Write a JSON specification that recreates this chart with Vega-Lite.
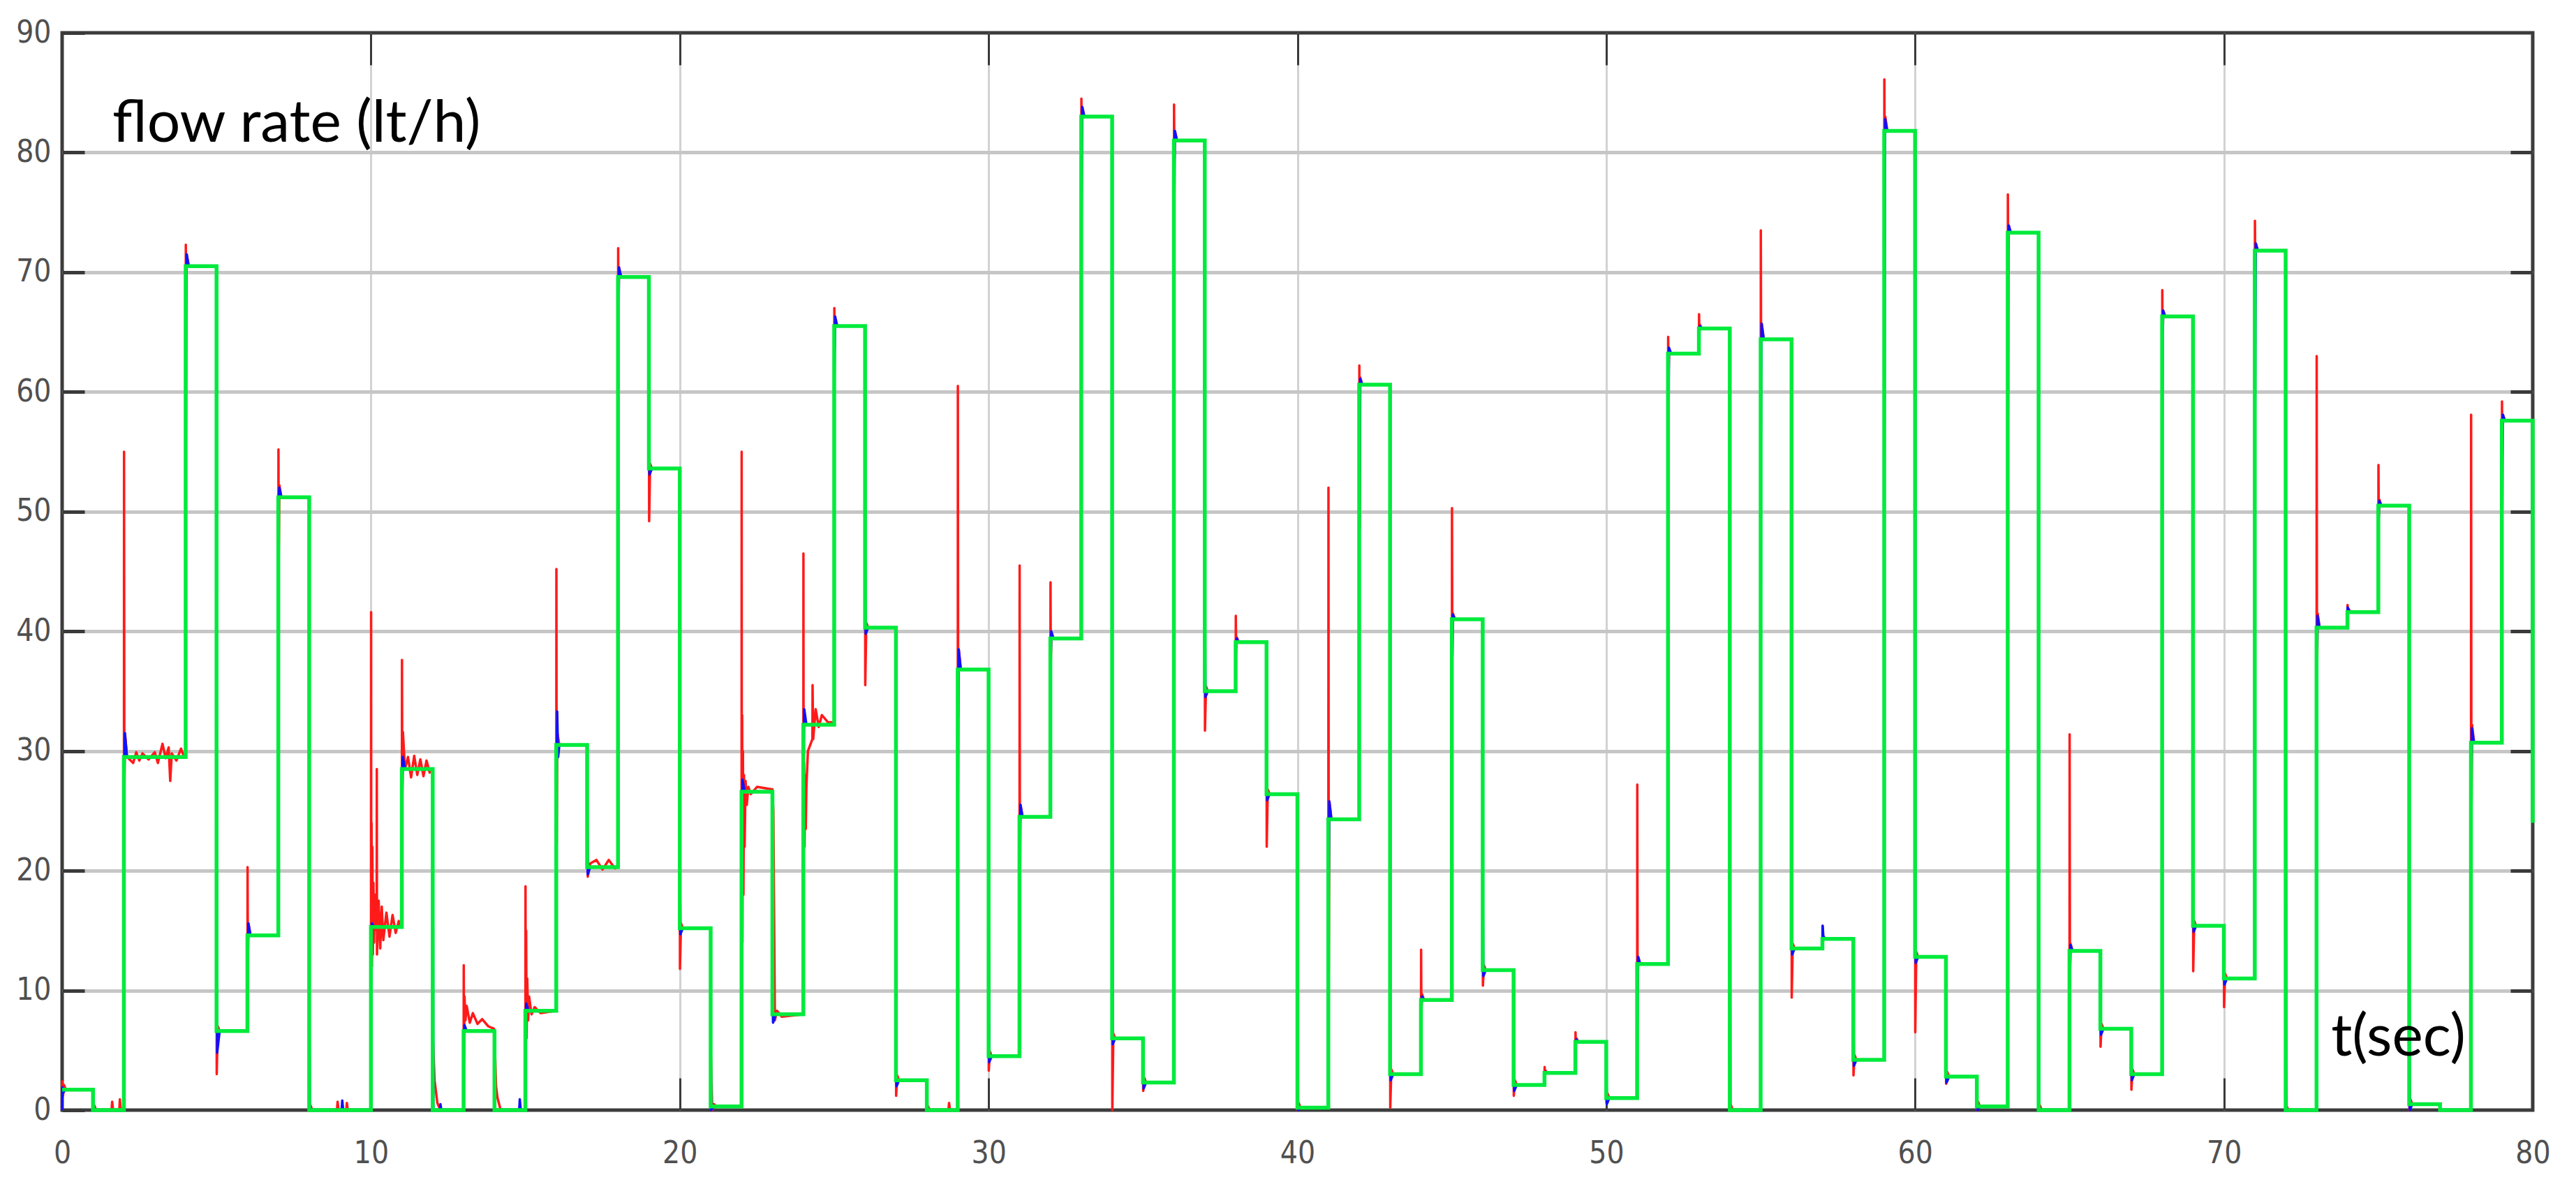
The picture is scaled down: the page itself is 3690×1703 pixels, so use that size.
{
  "$schema": "https://vega.github.io/schema/vega-lite/v6.json",
  "width": 3539,
  "height": 1543,
  "autosize": {"type": "none"},
  "padding": {"left": 89, "top": 47, "right": 62, "bottom": 113},
  "background": "#ffffff",
  "config": {"view": {"stroke": "#3c3c3c", "strokeWidth": 5}},
  "datasets": {
    "red": [
      {"t":0,"v":0},{"t":0.005,"v":2.4},{"t":0.03,"v":1.2},{"t":0.06,"v":2.1},{"t":0.12,"v":1.7},
      {"t":1,"v":1.7},{"t":1.006,"v":0},{"t":1.04,"v":0.4},{"t":1.1,"v":0},{"t":1.6,"v":0},{"t":1.62,"v":0.7},{"t":1.65,"v":0},{"t":1.85,"v":0},{"t":1.87,"v":0.9},{"t":1.9,"v":0},
      {"t":2,"v":0},{"t":2.005,"v":55},{"t":2.015,"v":26.5},{"t":2.035,"v":31.5},{"t":2.1,"v":29.5},{"t":2.3,"v":29},{"t":2.4,"v":29.9},{"t":2.5,"v":29.2},{"t":2.6,"v":29.8},{"t":2.8,"v":29.3},{"t":3,"v":29.9},{"t":3.1,"v":29},{"t":3.25,"v":30.6},{"t":3.35,"v":29.4},{"t":3.45,"v":30.3},{"t":3.5,"v":27.5},{"t":3.55,"v":29.8},{"t":3.7,"v":29.2},{"t":3.85,"v":30.2},{"t":3.95,"v":29.5},
      {"t":4,"v":29.5},{"t":4.005,"v":72.3},{"t":4.015,"v":69},{"t":4.035,"v":71.5},{"t":4.1,"v":70.5},
      {"t":5,"v":70.5},{"t":5.006,"v":3},{"t":5.04,"v":7},{"t":5.1,"v":6.6},
      {"t":6,"v":6.6},{"t":6.005,"v":20.3},{"t":6.015,"v":12.6},{"t":6.035,"v":15.6},{"t":6.1,"v":14.6},
      {"t":7,"v":14.6},{"t":7.005,"v":55.2},{"t":7.015,"v":46.4},{"t":7.035,"v":52.2},{"t":7.1,"v":51.2},
      {"t":8,"v":51.2},{"t":8.006,"v":0},{"t":8.04,"v":0.4},{"t":8.1,"v":0},{"t":8.9,"v":0},{"t":8.92,"v":0.7},{"t":8.95,"v":0},{"t":9.2,"v":0},{"t":9.22,"v":0.6},{"t":9.25,"v":0},
      {"t":10,"v":0},{"t":10.005,"v":41.6},{"t":10.012,"v":3},{"t":10.02,"v":24},{"t":10.03,"v":12},{"t":10.045,"v":22},{"t":10.06,"v":13},{"t":10.08,"v":19},{"t":10.1,"v":14},{"t":10.13,"v":18},{"t":10.185,"v":15},{"t":10.19,"v":28.5},{"t":10.195,"v":13},{"t":10.25,"v":17.5},{"t":10.3,"v":13.5},{"t":10.35,"v":17},{"t":10.4,"v":14.2},{"t":10.5,"v":16.5},{"t":10.6,"v":14.5},{"t":10.7,"v":16.3},{"t":10.8,"v":14.8},{"t":10.9,"v":15.8},{"t":10.98,"v":15.3},
      {"t":11,"v":15.3},{"t":11.005,"v":37.6},{"t":11.015,"v":26.5},{"t":11.035,"v":31.6},{"t":11.1,"v":28.5},{"t":11.2,"v":29.5},{"t":11.3,"v":27.8},{"t":11.4,"v":29.6},{"t":11.5,"v":28},{"t":11.6,"v":29.3},{"t":11.7,"v":27.9},{"t":11.8,"v":29.2},{"t":11.9,"v":28.2},{"t":11.98,"v":28.5},
      {"t":12,"v":28.5},{"t":12.006,"v":6},{"t":12.06,"v":2.5},{"t":12.15,"v":0.6},{"t":12.25,"v":0},
      {"t":13,"v":0},{"t":13.005,"v":12.1},{"t":13.015,"v":4},{"t":13.03,"v":9.5},{"t":13.06,"v":7.5},{"t":13.1,"v":8.7},{"t":13.2,"v":7.3},{"t":13.3,"v":8.1},{"t":13.45,"v":7.2},{"t":13.6,"v":7.6},{"t":13.8,"v":7},{"t":13.98,"v":6.8},
      {"t":14,"v":6.6},{"t":14.01,"v":5.5},{"t":14.05,"v":2},{"t":14.1,"v":1},{"t":14.2,"v":0},
      {"t":15,"v":0},{"t":15.005,"v":18.7},{"t":15.012,"v":4},{"t":15.025,"v":15},{"t":15.04,"v":6},{"t":15.06,"v":11},{"t":15.09,"v":7.5},{"t":15.12,"v":9.5},{"t":15.2,"v":8},{"t":15.3,"v":8.6},{"t":15.5,"v":8.1},{"t":15.98,"v":8.3},
      {"t":16,"v":8.3},{"t":16.005,"v":45.2},{"t":16.015,"v":22.2},{"t":16.035,"v":31.5},{"t":16.1,"v":30.5},
      {"t":17,"v":30.5},{"t":17.004,"v":25},{"t":17.02,"v":19.5},{"t":17.1,"v":20.6},{"t":17.3,"v":20.9},{"t":17.5,"v":20.1},{"t":17.7,"v":20.9},{"t":17.9,"v":20.2},{"t":17.98,"v":20.3},
      {"t":18,"v":20.3},{"t":18.005,"v":72},{"t":18.015,"v":67.6},{"t":18.035,"v":70.4},{"t":18.1,"v":69.6},
      {"t":19,"v":69.6},{"t":19.003,"v":57.7},{"t":19.008,"v":49.2},{"t":19.04,"v":54},{"t":19.1,"v":53.6},
      {"t":20,"v":53.6},{"t":20.006,"v":11.8},{"t":20.04,"v":15.6},{"t":20.1,"v":15.2},
      {"t":21,"v":15.2},{"t":21.004,"v":5.1},{"t":21.05,"v":0},{"t":21.1,"v":0.5},{"t":21.2,"v":0.3},
      {"t":22,"v":0.3},{"t":22.004,"v":55},{"t":22.01,"v":12},{"t":22.02,"v":33},{"t":22.03,"v":14},{"t":22.045,"v":30},{"t":22.06,"v":18},{"t":22.08,"v":28},{"t":22.1,"v":22},{"t":22.13,"v":27.5},{"t":22.17,"v":25.5},{"t":22.22,"v":27},{"t":22.3,"v":26.4},{"t":22.5,"v":27},{"t":22.98,"v":26.8},
      {"t":23,"v":26.8},{"t":23.03,"v":25},{"t":23.08,"v":7.5},{"t":23.15,"v":8.3},{"t":23.3,"v":7.8},
      {"t":24,"v":8},{"t":24.004,"v":46.5},{"t":24.012,"v":21},{"t":24.025,"v":29},{"t":24.04,"v":22},{"t":24.06,"v":28},{"t":24.08,"v":23.5},{"t":24.1,"v":27},{"t":24.15,"v":30},{"t":24.295,"v":31},{"t":24.3,"v":35.5},{"t":24.32,"v":31},{"t":24.4,"v":33.5},{"t":24.5,"v":32},{"t":24.6,"v":33},{"t":24.8,"v":32.4},{"t":24.98,"v":32.4},
      {"t":25,"v":32.4},{"t":25.005,"v":67},{"t":25.015,"v":63.5},{"t":25.035,"v":66},{"t":25.1,"v":65.5},
      {"t":26,"v":65.5},{"t":26.006,"v":35.5},{"t":26.04,"v":40.7},{"t":26.1,"v":40.3},
      {"t":27,"v":40.3},{"t":27.006,"v":1.2},{"t":27.04,"v":2.9},{"t":27.1,"v":2.5},
      {"t":28,"v":2.5},{"t":28.006,"v":0},{"t":28.04,"v":0.3},{"t":28.1,"v":0},{"t":28.7,"v":0},{"t":28.72,"v":0.6},{"t":28.75,"v":0},
      {"t":29,"v":0},{"t":29.005,"v":60.5},{"t":29.015,"v":32.8},{"t":29.035,"v":38.5},{"t":29.1,"v":36.8},
      {"t":30,"v":36.8},{"t":30.006,"v":3.3},{"t":30.04,"v":4.9},{"t":30.1,"v":4.5},
      {"t":31,"v":4.5},{"t":31.005,"v":45.5},{"t":31.015,"v":18.5},{"t":31.035,"v":25.5},{"t":31.1,"v":24.5},
      {"t":32,"v":24.5},{"t":32.005,"v":44.1},{"t":32.015,"v":37.4},{"t":32.035,"v":39.9},{"t":32.1,"v":39.4},
      {"t":33,"v":39.4},{"t":33.005,"v":84.5},{"t":33.015,"v":81},{"t":33.035,"v":83.8},{"t":33.1,"v":83},
      {"t":34,"v":83},{"t":34.006,"v":0},{"t":34.04,"v":6.4},{"t":34.1,"v":6},
      {"t":35,"v":6},{"t":35.006,"v":1.6},{"t":35.04,"v":2.7},{"t":35.1,"v":2.3},
      {"t":36,"v":2.3},{"t":36.005,"v":84},{"t":36.015,"v":79},{"t":36.035,"v":81.8},{"t":36.1,"v":81},
      {"t":37,"v":81},{"t":37.006,"v":31.7},{"t":37.04,"v":35.4},{"t":37.1,"v":35},
      {"t":38,"v":35},{"t":38.005,"v":41.3},{"t":38.015,"v":38.6},{"t":38.035,"v":39.5},{"t":38.1,"v":39.1},
      {"t":39,"v":39.1},{"t":39.006,"v":22},{"t":39.04,"v":26.8},{"t":39.1,"v":26.4},
      {"t":40,"v":26.4},{"t":40.006,"v":0},{"t":40.04,"v":0.6},{"t":40.1,"v":0.2},
      {"t":41,"v":0.2},{"t":41.005,"v":52},{"t":41.015,"v":11.3},{"t":41.035,"v":25.8},{"t":41.1,"v":24.3},
      {"t":42,"v":24.3},{"t":42.005,"v":62.2},{"t":42.015,"v":48.6},{"t":42.035,"v":61.2},{"t":42.1,"v":60.6},
      {"t":43,"v":60.6},{"t":43.006,"v":0.2},{"t":43.04,"v":3.4},{"t":43.1,"v":3},
      {"t":44,"v":3},{"t":44.005,"v":13.4},{"t":44.015,"v":8.2},{"t":44.035,"v":9.7},{"t":44.1,"v":9.2},
      {"t":45,"v":9.2},{"t":45.005,"v":50.3},{"t":45.015,"v":38},{"t":45.035,"v":41.5},{"t":45.1,"v":41},
      {"t":46,"v":41},{"t":46.006,"v":10.4},{"t":46.04,"v":12.1},{"t":46.1,"v":11.7},
      {"t":47,"v":11.7},{"t":47.006,"v":1.2},{"t":47.04,"v":2.5},{"t":47.1,"v":2.1},
      {"t":48,"v":2.1},{"t":48.005,"v":3.6},{"t":48.015,"v":3.1},{"t":48.035,"v":3.3},{"t":48.1,"v":3.1},
      {"t":49,"v":3.1},{"t":49.005,"v":6.5},{"t":49.015,"v":5.4},{"t":49.035,"v":6},{"t":49.1,"v":5.7},
      {"t":50,"v":5.7},{"t":50.006,"v":0.6},{"t":50.04,"v":1.4},{"t":50.1,"v":1},
      {"t":51,"v":1},{"t":51.005,"v":27.2},{"t":51.015,"v":10.2},{"t":51.035,"v":12.8},{"t":51.1,"v":12.2},
      {"t":52,"v":12.2},{"t":52.005,"v":64.6},{"t":52.015,"v":61.2},{"t":52.035,"v":63.6},{"t":52.1,"v":63.2},
      {"t":53,"v":63.2},{"t":53.005,"v":66.5},{"t":53.015,"v":65},{"t":53.035,"v":65.6},{"t":53.1,"v":65.3},
      {"t":54,"v":65.3},{"t":54.006,"v":0},{"t":54.04,"v":0.4},{"t":54.1,"v":0},
      {"t":55,"v":0},{"t":55.005,"v":73.5},{"t":55.015,"v":62.4},{"t":55.035,"v":65.7},{"t":55.1,"v":64.4},
      {"t":56,"v":64.4},{"t":56.006,"v":9.4},{"t":56.04,"v":13.9},{"t":56.1,"v":13.5},
      {"t":57,"v":13.5},{"t":57.005,"v":15.4},{"t":57.015,"v":14.1},{"t":57.035,"v":14.5},{"t":57.1,"v":14.3},
      {"t":58,"v":14.3},{"t":58.006,"v":2.9},{"t":58.04,"v":4.6},{"t":58.1,"v":4.2},
      {"t":59,"v":4.2},{"t":59.005,"v":86.1},{"t":59.015,"v":79.8},{"t":59.035,"v":83},{"t":59.1,"v":81.8},
      {"t":60,"v":81.8},{"t":60.006,"v":6.5},{"t":60.04,"v":13.2},{"t":60.1,"v":12.8},
      {"t":61,"v":12.8},{"t":61.006,"v":2.2},{"t":61.04,"v":3.2},{"t":61.1,"v":2.8},
      {"t":62,"v":2.8},{"t":62.006,"v":0},{"t":62.04,"v":0.7},{"t":62.1,"v":0.3},
      {"t":63,"v":0.3},{"t":63.005,"v":76.5},{"t":63.015,"v":71.3},{"t":63.035,"v":73.9},{"t":63.1,"v":73.3},
      {"t":64,"v":73.3},{"t":64.006,"v":0},{"t":64.04,"v":0.4},{"t":64.1,"v":0},
      {"t":65,"v":0},{"t":65.005,"v":31.4},{"t":65.015,"v":11.3},{"t":65.035,"v":13.9},{"t":65.1,"v":13.3},
      {"t":66,"v":13.3},{"t":66.006,"v":5.3},{"t":66.04,"v":7.2},{"t":66.1,"v":6.8},
      {"t":67,"v":6.8},{"t":67.006,"v":1.7},{"t":67.04,"v":3.4},{"t":67.1,"v":3},
      {"t":68,"v":3},{"t":68.005,"v":68.5},{"t":68.015,"v":64.3},{"t":68.035,"v":66.8},{"t":68.1,"v":66.3},
      {"t":69,"v":66.3},{"t":69.006,"v":11.6},{"t":69.04,"v":15.8},{"t":69.1,"v":15.4},
      {"t":70,"v":15.4},{"t":70.006,"v":8.6},{"t":70.04,"v":11.4},{"t":70.1,"v":11},
      {"t":71,"v":11},{"t":71.005,"v":74.3},{"t":71.015,"v":69.8},{"t":71.035,"v":72.4},{"t":71.1,"v":71.8},
      {"t":72,"v":71.8},{"t":72.006,"v":25},{"t":72.03,"v":0.3},{"t":72.1,"v":0},
      {"t":73,"v":0},{"t":73.005,"v":63},{"t":73.015,"v":35.8},{"t":73.035,"v":41.5},{"t":73.1,"v":40.3},
      {"t":74,"v":40.3},{"t":74.005,"v":42.2},{"t":74.015,"v":41.4},{"t":74.035,"v":41.9},{"t":74.1,"v":41.6},
      {"t":75,"v":41.6},{"t":75.005,"v":53.9},{"t":75.015,"v":49.5},{"t":75.035,"v":51},{"t":75.1,"v":50.5},
      {"t":76,"v":50.5},{"t":76.006,"v":0},{"t":76.04,"v":0.9},{"t":76.1,"v":0.5},
      {"t":77,"v":0.5},{"t":77.006,"v":0},{"t":77.1,"v":0},
      {"t":78,"v":0},{"t":78.005,"v":58.1},{"t":78.015,"v":24.7},{"t":78.035,"v":32.2},{"t":78.1,"v":30.7},
      {"t":79,"v":30.7},{"t":79.005,"v":59.2},{"t":79.015,"v":54.6},{"t":79.035,"v":58.1},{"t":79.1,"v":57.6},{"t":80,"v":57.6}
    ],
    "blue": [
      {"t":0,"v":0},{"t":0.01,"v":1.9},{"t":0.05,"v":1.5},{"t":0.1,"v":1.7},
      {"t":1,"v":1.7},{"t":1.003,"v":0.8},{"t":1.02,"v":0},{"t":1.1,"v":0},
      {"t":2,"v":0},{"t":2.006,"v":28},{"t":2.012,"v":27},{"t":2.03,"v":31.5},{"t":2.1,"v":29.5},
      {"t":4,"v":29.5},{"t":4.006,"v":54.6},{"t":4.03,"v":71.5},{"t":4.1,"v":70.5},
      {"t":5,"v":70.5},{"t":5.003,"v":34},{"t":5.02,"v":4.8},{"t":5.1,"v":6.6},
      {"t":6,"v":6.6},{"t":6.006,"v":12},{"t":6.03,"v":15.6},{"t":6.1,"v":14.6},
      {"t":7,"v":14.6},{"t":7.006,"v":50.5},{"t":7.03,"v":52},{"t":7.1,"v":51.2},
      {"t":8,"v":51.2},{"t":8.003,"v":10},{"t":8.02,"v":0},{"t":8.1,"v":0},{"t":9.05,"v":0},{"t":9.07,"v":0.8},{"t":9.1,"v":0},
      {"t":10,"v":0},{"t":10.006,"v":12.5},{"t":10.03,"v":15.6},{"t":10.1,"v":15.3},
      {"t":11,"v":15.3},{"t":11.006,"v":25},{"t":11.03,"v":29.5},{"t":11.1,"v":28.5},
      {"t":12,"v":28.5},{"t":12.003,"v":24.7},{"t":12.02,"v":0},{"t":12.1,"v":0},{"t":12.23,"v":0},{"t":12.25,"v":0.5},{"t":12.28,"v":0},
      {"t":13,"v":0},{"t":13.006,"v":6},{"t":13.03,"v":7.1},{"t":13.1,"v":6.6},
      {"t":14,"v":6.6},{"t":14.003,"v":5},{"t":14.02,"v":0},{"t":14.1,"v":0},{"t":14.8,"v":0},{"t":14.82,"v":0.9},{"t":14.85,"v":0},
      {"t":15,"v":0},{"t":15.006,"v":8},{"t":15.03,"v":8.9},{"t":15.1,"v":8.3},
      {"t":16,"v":8.3},{"t":16.006,"v":27},{"t":16.03,"v":33.3},{"t":16.06,"v":29.5},{"t":16.1,"v":30.5},
      {"t":17,"v":30.5},{"t":17.003,"v":25},{"t":17.02,"v":19.7},{"t":17.1,"v":20.3},
      {"t":18,"v":20.3},{"t":18.006,"v":62},{"t":18.03,"v":70.4},{"t":18.1,"v":69.6},
      {"t":19,"v":69.6},{"t":19.003,"v":57.7},{"t":19.02,"v":53.1},{"t":19.1,"v":53.6},
      {"t":20,"v":53.6},{"t":20.003,"v":20.9},{"t":20.02,"v":14.7},{"t":20.1,"v":15.2},
      {"t":21,"v":15.2},{"t":21.003,"v":5},{"t":21.02,"v":0},{"t":21.1,"v":0.3},
      {"t":22,"v":0.3},{"t":22.006,"v":20},{"t":22.03,"v":27.6},{"t":22.1,"v":26.6},
      {"t":23,"v":26.6},{"t":23.003,"v":10},{"t":23.02,"v":7.3},{"t":23.1,"v":8},
      {"t":24,"v":8},{"t":24.006,"v":28},{"t":24.03,"v":33.5},{"t":24.1,"v":32.2},
      {"t":25,"v":32.2},{"t":25.006,"v":61},{"t":25.03,"v":66.3},{"t":25.1,"v":65.5},
      {"t":26,"v":65.5},{"t":26.003,"v":45},{"t":26.02,"v":39.8},{"t":26.1,"v":40.3},
      {"t":27,"v":40.3},{"t":27.003,"v":9.5},{"t":27.02,"v":2},{"t":27.1,"v":2.5},
      {"t":28,"v":2.5},{"t":28.003,"v":1.5},{"t":28.02,"v":0},{"t":28.1,"v":0},
      {"t":29,"v":0},{"t":29.006,"v":25},{"t":29.03,"v":38.5},{"t":29.1,"v":36.8},
      {"t":30,"v":36.8},{"t":30.003,"v":17},{"t":30.02,"v":4},{"t":30.1,"v":4.5},
      {"t":31,"v":4.5},{"t":31.006,"v":21},{"t":31.03,"v":25.5},{"t":31.1,"v":24.5},
      {"t":32,"v":24.5},{"t":32.006,"v":37},{"t":32.03,"v":40},{"t":32.1,"v":39.4},
      {"t":33,"v":39.4},{"t":33.006,"v":72.8},{"t":33.03,"v":83.8},{"t":33.1,"v":83},
      {"t":34,"v":83},{"t":34.003,"v":28},{"t":34.02,"v":5.5},{"t":34.1,"v":6},
      {"t":35,"v":6},{"t":35.003,"v":4},{"t":35.02,"v":1.8},{"t":35.1,"v":2.3},
      {"t":36,"v":2.3},{"t":36.006,"v":72.9},{"t":36.03,"v":81.8},{"t":36.1,"v":81},
      {"t":37,"v":81},{"t":37.003,"v":42.8},{"t":37.02,"v":34.5},{"t":37.1,"v":35},
      {"t":38,"v":35},{"t":38.006,"v":38},{"t":38.03,"v":39.4},{"t":38.1,"v":39.1},
      {"t":39,"v":39.1},{"t":39.003,"v":28.5},{"t":39.02,"v":25.9},{"t":39.1,"v":26.4},
      {"t":40,"v":26.4},{"t":40.003,"v":9.9},{"t":40.02,"v":0},{"t":40.1,"v":0.2},
      {"t":41,"v":0.2},{"t":41.006,"v":16},{"t":41.03,"v":25.8},{"t":41.1,"v":24.3},
      {"t":42,"v":24.3},{"t":42.006,"v":48.3},{"t":42.03,"v":61.1},{"t":42.1,"v":60.6},
      {"t":43,"v":60.6},{"t":43.003,"v":8.4},{"t":43.02,"v":2.5},{"t":43.1,"v":3},
      {"t":44,"v":3},{"t":44.006,"v":8},{"t":44.03,"v":9.5},{"t":44.1,"v":9.2},
      {"t":45,"v":9.2},{"t":45.006,"v":36},{"t":45.03,"v":41.4},{"t":45.1,"v":41},
      {"t":46,"v":41},{"t":46.003,"v":18.6},{"t":46.02,"v":11.2},{"t":46.1,"v":11.7},
      {"t":47,"v":11.7},{"t":47.003,"v":6.9},{"t":47.02,"v":1.6},{"t":47.1,"v":2.1},
      {"t":48,"v":2.1},{"t":48.006,"v":3.2},{"t":48.03,"v":3.2},{"t":48.1,"v":3.1},
      {"t":49,"v":3.1},{"t":49.006,"v":5.5},{"t":49.03,"v":5.9},{"t":49.1,"v":5.7},
      {"t":50,"v":5.7},{"t":50.003,"v":2.7},{"t":50.02,"v":0.5},{"t":50.1,"v":1},
      {"t":51,"v":1},{"t":51.006,"v":6.5},{"t":51.03,"v":12.8},{"t":51.1,"v":12.2},
      {"t":52,"v":12.2},{"t":52.006,"v":52.9},{"t":52.03,"v":63.7},{"t":52.1,"v":63.2},
      {"t":53,"v":63.2},{"t":53.006,"v":65},{"t":53.03,"v":65.5},{"t":53.1,"v":65.3},
      {"t":54,"v":65.3},{"t":54.003,"v":26.7},{"t":54.02,"v":0},{"t":54.1,"v":0},
      {"t":55,"v":0},{"t":55.006,"v":54.8},{"t":55.03,"v":65.7},{"t":55.1,"v":64.4},
      {"t":56,"v":64.4},{"t":56.003,"v":21},{"t":56.02,"v":13},{"t":56.1,"v":13.5},
      {"t":57,"v":13.5},{"t":57.006,"v":15.4},{"t":57.03,"v":14.5},{"t":57.1,"v":14.3},
      {"t":58,"v":14.3},{"t":58.003,"v":8.2},{"t":58.02,"v":3.7},{"t":58.1,"v":4.2},
      {"t":59,"v":4.2},{"t":59.006,"v":52.9},{"t":59.03,"v":82.8},{"t":59.1,"v":81.8},
      {"t":60,"v":81.8},{"t":60.003,"v":41.3},{"t":60.02,"v":12.3},{"t":60.1,"v":12.8},
      {"t":61,"v":12.8},{"t":61.003,"v":4.5},{"t":61.02,"v":2.3},{"t":61.1,"v":2.8},
      {"t":62,"v":2.8},{"t":62.003,"v":1.2},{"t":62.02,"v":0},{"t":62.1,"v":0.3},
      {"t":63,"v":0.3},{"t":63.006,"v":57},{"t":63.03,"v":73.9},{"t":63.1,"v":73.3},
      {"t":64,"v":73.3},{"t":64.003,"v":18},{"t":64.02,"v":0},{"t":64.1,"v":0},
      {"t":65,"v":0},{"t":65.006,"v":10},{"t":65.03,"v":13.8},{"t":65.1,"v":13.3},
      {"t":66,"v":13.3},{"t":66.003,"v":9},{"t":66.02,"v":6.3},{"t":66.1,"v":6.8},
      {"t":67,"v":6.8},{"t":67.003,"v":4.5},{"t":67.02,"v":2.5},{"t":67.1,"v":3},
      {"t":68,"v":3},{"t":68.006,"v":57.6},{"t":68.03,"v":66.8},{"t":68.1,"v":66.3},
      {"t":69,"v":66.3},{"t":69.003,"v":23},{"t":69.02,"v":14.9},{"t":69.1,"v":15.4},
      {"t":70,"v":15.4},{"t":70.003,"v":12.5},{"t":70.02,"v":10.5},{"t":70.1,"v":11},
      {"t":71,"v":11},{"t":71.006,"v":55.9},{"t":71.03,"v":72.4},{"t":71.1,"v":71.8},
      {"t":72,"v":71.8},{"t":72.003,"v":29.6},{"t":72.02,"v":0},{"t":72.1,"v":0},
      {"t":73,"v":0},{"t":73.006,"v":36},{"t":73.012,"v":35.6},{"t":73.03,"v":41.3},{"t":73.1,"v":40.3},
      {"t":74,"v":40.3},{"t":74.006,"v":42},{"t":74.03,"v":41.8},{"t":74.1,"v":41.6},
      {"t":75,"v":41.6},{"t":75.006,"v":49.3},{"t":75.03,"v":50.9},{"t":75.1,"v":50.5},
      {"t":76,"v":50.5},{"t":76.003,"v":11.1},{"t":76.02,"v":0},{"t":76.1,"v":0.5},
      {"t":77,"v":0.5},{"t":77.003,"v":0.3},{"t":77.02,"v":0},{"t":77.1,"v":0},
      {"t":78,"v":0},{"t":78.006,"v":30},{"t":78.012,"v":27},{"t":78.03,"v":31.9},{"t":78.1,"v":30.7},
      {"t":79,"v":30.7},{"t":79.006,"v":48},{"t":79.03,"v":58.1},{"t":79.1,"v":57.6},{"t":80,"v":57.6}
    ],
    "green": [
      {"t":0,"v":1.7},{"t":1,"v":0},{"t":2,"v":29.5},{"t":3,"v":29.5},{"t":4,"v":70.5},{"t":5,"v":6.6},{"t":6,"v":14.6},{"t":7,"v":51.2},{"t":8,"v":0},{"t":9,"v":0},
      {"t":10,"v":15.3},{"t":11,"v":28.5},{"t":12,"v":0},{"t":13,"v":6.6},{"t":14,"v":0},{"t":15,"v":8.3},{"t":16,"v":30.5},{"t":17,"v":20.3},{"t":18,"v":69.6},{"t":19,"v":53.6},
      {"t":20,"v":15.2},{"t":21,"v":0.3},{"t":22,"v":26.6},{"t":23,"v":8.0},{"t":24,"v":32.2},{"t":25,"v":65.5},{"t":26,"v":40.3},{"t":27,"v":2.5},{"t":28,"v":0},{"t":29,"v":36.8},
      {"t":30,"v":4.5},{"t":31,"v":24.5},{"t":32,"v":39.4},{"t":33,"v":83.0},{"t":34,"v":6.0},{"t":35,"v":2.3},{"t":36,"v":81.0},{"t":37,"v":35.0},{"t":38,"v":39.1},{"t":39,"v":26.4},
      {"t":40,"v":0.2},{"t":41,"v":24.3},{"t":42,"v":60.6},{"t":43,"v":3.0},{"t":44,"v":9.2},{"t":45,"v":41.0},{"t":46,"v":11.7},{"t":47,"v":2.1},{"t":48,"v":3.1},{"t":49,"v":5.7},
      {"t":50,"v":1.0},{"t":51,"v":12.2},{"t":52,"v":63.2},{"t":53,"v":65.3},{"t":54,"v":0},{"t":55,"v":64.4},{"t":56,"v":13.5},{"t":57,"v":14.3},{"t":58,"v":4.2},{"t":59,"v":81.8},
      {"t":60,"v":12.8},{"t":61,"v":2.8},{"t":62,"v":0.3},{"t":63,"v":73.3},{"t":64,"v":0},{"t":65,"v":13.3},{"t":66,"v":6.8},{"t":67,"v":3.0},{"t":68,"v":66.3},{"t":69,"v":15.4},
      {"t":70,"v":11.0},{"t":71,"v":71.8},{"t":72,"v":0},{"t":73,"v":40.3},{"t":74,"v":41.6},{"t":75,"v":50.5},{"t":76,"v":0.5},{"t":77,"v":0},{"t":78,"v":30.7},{"t":79,"v":57.6},
      {"t":80,"v":24}
    ],
    "labels": [
      {"label": "flow rate (lt/h)", "t": 1.63, "v": 80.9},
      {"label": "t(sec)", "t": 73.47, "v": 4.55}
    ]
  },
  "resolve": {"axis": {"x": "independent", "y": "independent"}},
  "layer": [
    {
      "data": {"name": "red"},
      "mark": {"type": "line", "color": "#ff1a1a", "strokeWidth": 3.5, "strokeJoin": "round"},
      "encoding": {
        "x": {"field": "t", "type": "quantitative", "scale": {"domain": [0, 80], "nice": false, "zero": false},
          "axis": {"orient": "bottom", "title": null, "grid": true, "gridColor": "#d2d2d2", "gridWidth": 3, "ticks": false, "labels": false, "domain": false, "values": [10, 20, 30, 40, 50, 60, 70]}},
        "y": {"field": "v", "type": "quantitative", "scale": {"domain": [0, 90], "nice": false, "zero": false},
          "axis": {"orient": "left", "title": null, "grid": true, "gridColor": "#c6c6c6", "gridWidth": 5, "ticks": false, "labels": false, "domain": false, "values": [10, 20, 30, 40, 50, 60, 70, 80]}}
      }
    },
    {
      "data": {"name": "blue"},
      "mark": {"type": "line", "color": "#1010ff", "strokeWidth": 3.5, "strokeJoin": "round"},
      "encoding": {
        "x": {"field": "t", "type": "quantitative", "scale": {"domain": [0, 80], "nice": false, "zero": false},
          "axis": {"orient": "bottom", "title": null, "grid": false, "domain": false, "values": [0, 10, 20, 30, 40, 50, 60, 70, 80], "tickSize": -46, "tickWidth": 3, "tickColor": "#3a3a3a", "labelPadding": 86, "labelFlush": false, "labelFont": "Liberation Sans Narrow, Arial Narrow, DejaVu Sans Condensed, Liberation Sans, sans-serif", "labelFontSize": 44, "labelColor": "#505050"}},
        "y": {"field": "v", "type": "quantitative", "scale": {"domain": [0, 90], "nice": false, "zero": false},
          "axis": {"orient": "left", "title": null, "grid": false, "domain": false, "values": [0, 10, 20, 30, 40, 50, 60, 70, 80, 90], "tickSize": -32, "tickWidth": 5, "tickColor": "#3a3a3a", "labelPadding": 48, "labelFlush": false, "labelFont": "Liberation Sans Narrow, Arial Narrow, DejaVu Sans Condensed, Liberation Sans, sans-serif", "labelFontSize": 44, "labelColor": "#505050"}}
      }
    },
    {
      "data": {"name": "green"},
      "mark": {"type": "line", "color": "#00ea3c", "strokeWidth": 5.5, "interpolate": "step-after"},
      "encoding": {
        "x": {"field": "t", "type": "quantitative", "scale": {"domain": [0, 80], "nice": false, "zero": false},
          "axis": {"orient": "top", "title": null, "grid": false, "domain": false, "labels": false, "values": [10, 20, 30, 40, 50, 60, 70], "tickSize": -46, "tickWidth": 3, "tickColor": "#3a3a3a"}},
        "y": {"field": "v", "type": "quantitative", "scale": {"domain": [0, 90], "nice": false, "zero": false},
          "axis": {"orient": "right", "title": null, "grid": false, "domain": false, "labels": false, "values": [10, 20, 30, 40, 50, 60, 70, 80], "tickSize": -32, "tickWidth": 5, "tickColor": "#3a3a3a"}}
      }
    },
    {
      "data": {"name": "labels"},
      "mark": {"type": "text", "font": "Lato", "fontSize": 84, "align": "left", "baseline": "alphabetic", "color": "#000000"},
      "encoding": {
        "x": {"field": "t", "type": "quantitative", "scale": {"domain": [0, 80], "nice": false, "zero": false}, "axis": null},
        "y": {"field": "v", "type": "quantitative", "scale": {"domain": [0, 90], "nice": false, "zero": false}, "axis": null},
        "text": {"field": "label", "type": "nominal"}
      }
    }
  ]
}
